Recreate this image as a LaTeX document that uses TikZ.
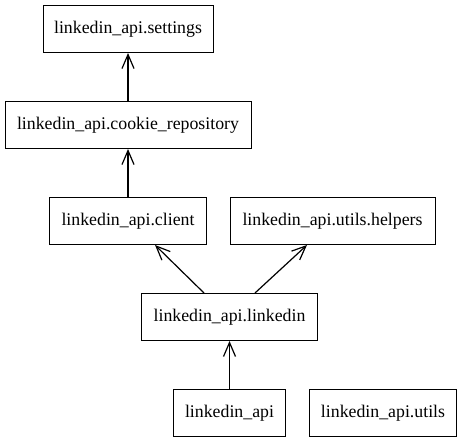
\documentclass[tikz,border=0pt]{standalone}
\usepackage{fontspec}
\setmainfont{Liberation Serif}
\usetikzlibrary{arrows.meta}
\begin{document}
\begin{tikzpicture}[x=1pt,y=-1pt,
  box/.style={draw,line width=1pt,minimum height=47pt,inner sep=0pt,font=\fontsize{17.8}{20}\selectfont},
  arr/.style={line width=1.2pt,-{Straight Barb[length=14pt,width=12pt,line width=1.2pt]}}]
\useasboundingbox[fill=white] (0,0) rectangle (462,443);
\node[box,minimum width=170pt] (settings) at (128,29) {linkedin\_api.settings};
\node[box,minimum width=246pt] (cookie) at (128,125) {linkedin\_api.cookie\_repository};
\node[box,minimum width=157pt] (client) at (128,221) {linkedin\_api.client};
\node[box,minimum width=205pt] (helpers) at (332.5,221) {linkedin\_api.utils.helpers};
\node[box,minimum width=176pt] (linkedin) at (229.5,317) {linkedin\_api.linkedin};
\node[box,minimum width=112pt] (api) at (229.5,413) {linkedin\_api};
\node[box,minimum width=147pt] (utils) at (383,413) {linkedin\_api.utils};
\draw[arr] (cookie.north) -- (settings.south);
\draw[arr] (client.north) -- (cookie.south);
\draw[arr] ([xshift=-25.5pt]linkedin.north) -- ([xshift=27pt]client.south);
\draw[arr] ([xshift=25.5pt]linkedin.north) -- ([xshift=-25.5pt]helpers.south);
\draw[arr] (api.north) -- (linkedin.south);
\end{tikzpicture}
\end{document}
